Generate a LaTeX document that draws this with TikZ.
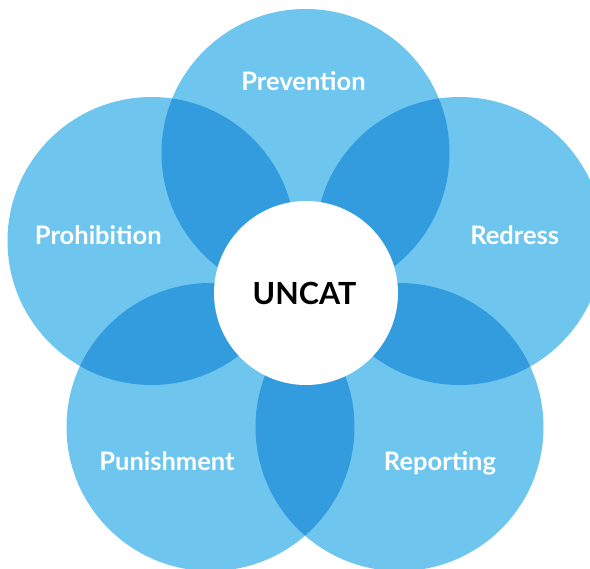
\documentclass[tikz,border=0pt]{standalone}
\usepackage{fontspec}
\setmainfont{Lato}
\definecolor{petalblue}{HTML}{6EC6EF}
\definecolor{overlapblue}{HTML}{329CDF}
\begin{document}
\begin{tikzpicture}[x=1pt, y=-1pt, every node/.style={align=center},
  petal/.style={fill=petalblue},
  petaltext/.style={anchor=base, text=white, font=\fontsize{25.5}{30}\selectfont\bfseries}]
\useasboundingbox (0,0) rectangle (590,569);
\clip (0,0) rectangle (590,569);
\coordinate (prevention) at (305.5,153);
\coordinate (prohibition) at (151.5,241);
\coordinate (redress) at (459.5,241);
\coordinate (punishment) at (210.5,427);
\coordinate (reporting) at (399.5,427);

\foreach \c in {prevention,prohibition,redress,punishment,reporting}
  \fill[petal] (\c) circle[radius=144pt];
\foreach \a/\b in {prevention/prohibition, prevention/redress, prohibition/punishment, redress/reporting, punishment/reporting}{
  \begin{scope}
    \clip (\a) circle[radius=144pt];
    \fill[overlapblue] (\b) circle[radius=144pt];
  \end{scope}
}

\node[circle, fill=white, minimum size=184pt, inner sep=0pt] (uncat) at (306,293) {};
\node[anchor=base, font=\fontsize{30.5}{36}\selectfont\bfseries] (uncattext) at (304.5,305) {UNCAT};
\node[petaltext] (preventiontext) at (303.5,90.7) {Prevention};
\node[petaltext] (prohibitiontext) at (98.3,245) {Prohibition};
\node[petaltext] (redresstext) at (514.7,245) {Redress};
\node[petaltext] (punishmenttext) at (167,470.7) {Punishment};
\node[petaltext] (reportingtext) at (440,470.7) {Reporting};
\end{tikzpicture}
\end{document}
